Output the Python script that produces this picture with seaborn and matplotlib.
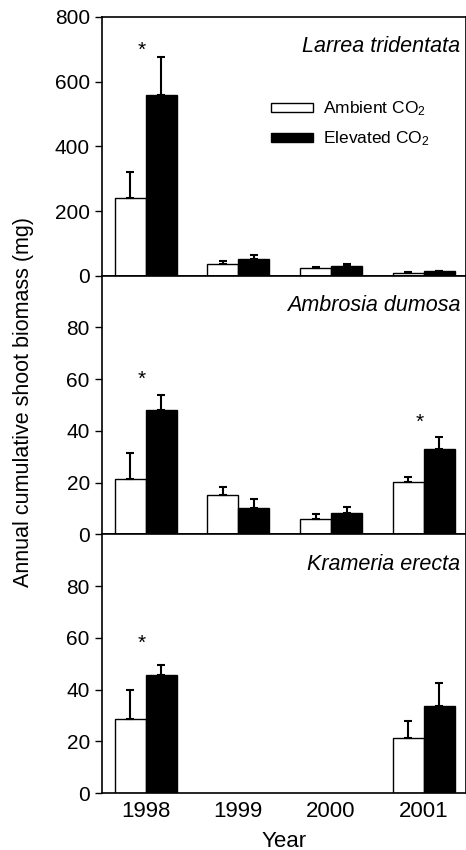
import matplotlib
matplotlib.use("Agg")
import numpy as np
import pandas as pd
import seaborn as sns
import matplotlib.pyplot as plt
from matplotlib.patches import Patch

sns.set_style("ticks")
plt.rcParams["font.family"] = ["Liberation Sans", "DejaVu Sans"]
plt.rcParams["mathtext.fontset"] = "custom"
plt.rcParams["mathtext.rm"] = "Liberation Sans"
plt.rcParams["mathtext.it"] = "Liberation Sans:italic"
plt.rcParams["text.color"] = "black"
plt.rcParams["axes.labelcolor"] = "black"
plt.rcParams["xtick.color"] = "black"
plt.rcParams["ytick.color"] = "black"

# === Data ===
years = ["1998", "1999", "2000", "2001"]
species = ["Larrea tridentata", "Ambrosia dumosa", "Krameria erecta"]
treatments = ["Ambient CO$_2$", "Elevated CO$_2$"]

larrea_amb = [241, 36, 24, 9]
larrea_amb_se = [79, 9, 3, 2]
larrea_elev = [558, 51, 31, 13]
larrea_elev_se = [119, 12, 5, 2]

ambrosia_amb = [21.5, 15.1, 5.8, 20.1]
ambrosia_amb_se = [9.9, 3.1, 2.1, 2.0]
ambrosia_elev = [47.9, 10.3, 8.1, 32.9]
ambrosia_elev_se = [6.0, 3.2, 2.4, 4.8]

krameria_amb = [28.5, np.nan, np.nan, 21.2]
krameria_amb_se = [11.2, np.nan, np.nan, 6.5]
krameria_elev = [45.5, np.nan, np.nan, 33.5]
krameria_elev_se = [4.0, np.nan, np.nan, 9.2]

# significance stars: (year index, y position) per panel
stars = [[(0, 697)], [(0, 60), (3, 43.3)], [(0, 57.8)]]

panels = [
    (larrea_amb, larrea_amb_se, larrea_elev, larrea_elev_se),
    (ambrosia_amb, ambrosia_amb_se, ambrosia_elev, ambrosia_elev_se),
    (krameria_amb, krameria_amb_se, krameria_elev, krameria_elev_se),
]
ylims = [(0, 800), (0, 100), (0, 100)]
yticks = [[0, 200, 400, 600, 800], [0, 20, 40, 60, 80], [0, 20, 40, 60, 80]]

fig, axes = plt.subplots(3, 1, figsize=(4.66, 8.5), dpi=100, sharex=True)
fig.subplots_adjust(left=0.218, right=1.0, top=0.98, bottom=0.067, hspace=0)

for i, ax in enumerate(axes):
    amb, amb_se, elev, elev_se = panels[i]
    df = pd.DataFrame({
        "year": years * 2,
        "co2": [treatments[0]] * 4 + [treatments[1]] * 4,
        "mass": list(amb) + list(elev),
        "se": list(amb_se) + list(elev_se),
    }).dropna()

    sns.barplot(
        data=df, x="year", y="mass", hue="co2",
        order=years, hue_order=treatments,
        palette=["white", "black"], edgecolor="black", linewidth=1,
        width=0.67, errorbar=None, legend=False, ax=ax,
    )

    # one-sided (upward) standard error bars
    for container, level in zip(ax.containers, treatments):
        sub = df[df["co2"] == level]
        sub = sub.assign(pos=sub["year"].map(years.index)).sort_values("pos")
        for bar, se in zip(container, sub["se"]):
            x = bar.get_x() + bar.get_width() / 2
            h = bar.get_height()
            ax.errorbar(x, h, yerr=[[0], [se]], fmt="none", ecolor="black",
                        elinewidth=1.5, capsize=3, capthick=1.5, zorder=1)

    for xi, ys in stars[i]:
        ax.text(xi - 0.04, ys, "*", ha="center", va="center", fontsize=15)

    ax.text(0.985, 0.885, species[i], transform=ax.transAxes, ha="right",
            va="center", fontsize=15.5, style="italic")

    ax.set_ylim(*ylims[i])
    ax.set_yticks(yticks[i])
    ax.set_xlim(-0.475, 3.455)
    ax.set_xlabel("")
    ax.set_ylabel("")
    ax.tick_params(axis="y", direction="out", length=5, width=1, labelsize=15)
    ax.tick_params(axis="x", length=0, labelsize=16, pad=6)
    for s in ax.spines.values():
        s.set_linewidth(1.2)
        s.set_color("black")

handles = [Patch(facecolor="white", edgecolor="black", linewidth=1),
           Patch(facecolor="black", edgecolor="black", linewidth=1)]
axes[0].legend(handles, treatments, loc="upper left", bbox_to_anchor=(0.465, 0.68),
               frameon=False, fontsize=12.5, handlelength=2.4, handleheight=0.45,
               handletextpad=0.6, labelspacing=0.65, borderpad=0, borderaxespad=0)

axes[2].set_xlabel("Year", fontsize=16, labelpad=6)
fig.text(0.05, 0.527, "Annual cumulative shoot biomass (mg)", rotation=90,
         ha="center", va="center", fontsize=15.5)

fig.savefig("out.png", dpi=100)
